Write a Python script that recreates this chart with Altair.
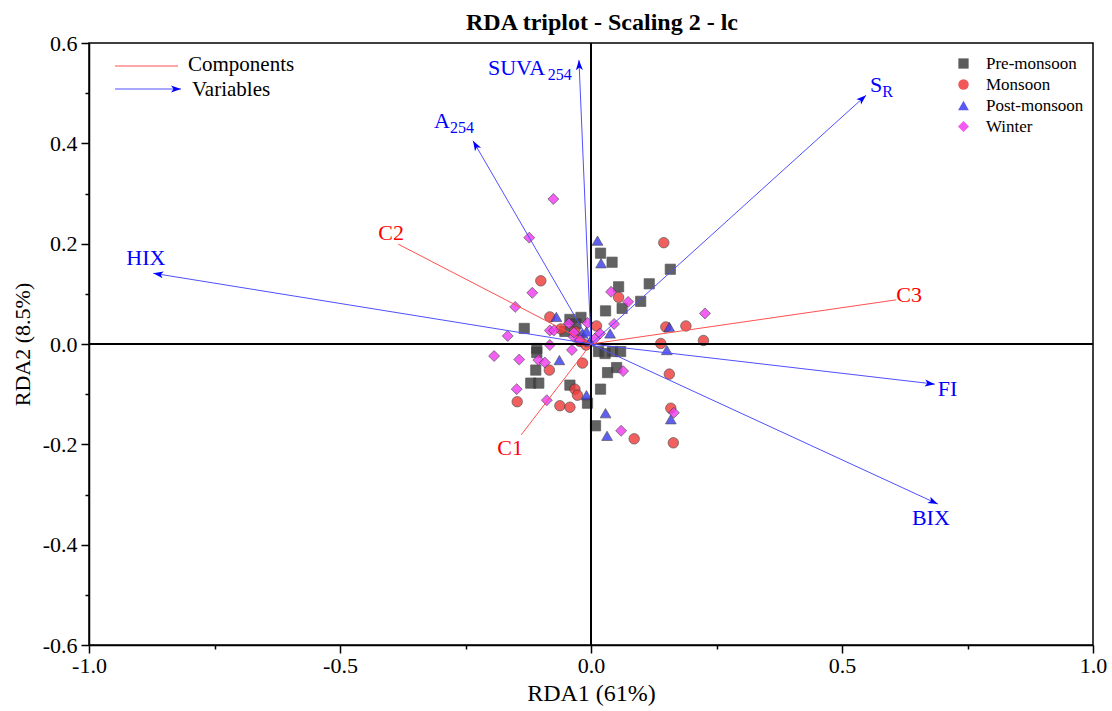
import math
import altair as alt
import pandas as pd

# ---- site scores (RDA1, RDA2) by season ----
pre_x = [0.019, 0.042, 0.158, 0.055, 0.116, 0.062, 0.099, 0.029, -0.042, -0.020,
         -0.133, -0.052, -0.108, -0.108, -0.110, 0.015, 0.043, 0.059, 0.051, 0.033,
         -0.120, -0.104, -0.042, 0.019, -0.007, 0.009, 0.028, -0.030]
pre_y = [0.181, 0.163, 0.149, 0.114, 0.120, 0.071, 0.085, 0.066, 0.049, 0.053,
         0.031, 0.025, -0.009, -0.017, -0.052, -0.015, -0.015, -0.015, -0.047, -0.057,
         -0.078, -0.078, -0.082, -0.090, -0.118, -0.163, -0.019, 0.040]

mon_x = [0.145, -0.100, 0.055, -0.082, 0.011, 0.149, 0.189, 0.139, 0.224, -0.083,
         -0.017, 0.156, -0.032, -0.027, -0.147, -0.062, -0.042, 0.159, 0.086, 0.164,
         -0.032, -0.022, -0.010, -0.060]
mon_y = [0.202, 0.126, 0.093, 0.054, 0.036, 0.034, 0.036, 0.001, 0.007, -0.052,
         -0.038, -0.060, -0.090, -0.102, -0.115, -0.123, -0.126, -0.128, -0.189, -0.197,
         0.025, 0.005, -0.002, 0.030]

post_x = [0.013, 0.020, -0.069, 0.156, 0.151, -0.063, -0.009, 0.029, 0.159, 0.032,
          -0.002, 0.038, -0.017, -0.009]
post_y = [0.206, 0.161, 0.054, 0.034, -0.012, -0.032, -0.102, -0.138, -0.150, -0.183,
          0.005, 0.021, 0.021, 0.025]

win_x = [-0.075, -0.123, -0.117, -0.151, 0.040, 0.074, 0.227, -0.044, -0.007, 0.046,
         -0.166, -0.082, -0.074, -0.035, 0.008, -0.082, -0.038, -0.193, -0.143, -0.105,
         -0.092, 0.064, -0.148, -0.088, 0.165, 0.060, -0.034, -0.022, 0.018]
win_y = [0.289, 0.212, 0.102, 0.074, 0.104, 0.084, 0.061, 0.041, 0.042, 0.040,
         0.016, 0.027, 0.027, 0.015, 0.011, -0.002, -0.012, -0.024, -0.031, -0.032,
         -0.037, -0.054, -0.090, -0.112, -0.137, -0.173, 0.023, 0.008, 0.021]

seasons = ["Pre-monsoon", "Monsoon", "Post-monsoon", "Winter"]

# ---- explanatory variables (blue arrows) ----
var_names = ["HIX", "A254", "SUVA254", "SR", "FI", "BIX"]
var_main = ["HIX", "A", "SUVA", "S", "FI", "BIX"]
var_sub = ["", "254", "254", "R", "", ""]
var_x = [-0.872, -0.235, -0.024, 0.548, 0.685, 0.691]
var_y = [0.141, 0.405, 0.566, 0.496, -0.080, -0.319]

# ---- PARAFAC components (red lines) ----
comp_names = ["C1", "C2", "C3"]
comp_x = [-0.139, -0.384, 0.608]
comp_y = [-0.181, 0.199, 0.088]

# ---- layout / style ----
W, H = 1004, 602
KX = W / 2.0      # px per unit, RDA1
KY = H / 1.2      # px per unit, RDA2
FONT = "Liberation Serif"
LABEL_SIZE = 22
SUB_SIZE = 16

season_colors = ["#404040", "#f03c3c", "#3c3cf0", "#f03cf0"]
season_shapes = ["square", "circle", "triangle-up", "diamond"]
season_sizes = [105, 120, 165, 190]

# label anchor offsets in px (left edge, vertical centre) from the arrow tip
var_label_px = {"HIX": (-27, -15), "A254": (-39, -20), "SUVA254": (-91, 8),
                "SR": (4, -10), "FI": (3, 5), "BIX": (-26, 14)}
comp_label_px = {"C1": (-24, 13), "C2": (-20, -11), "C3": (0, -5)}
# Times-like advance widths (em) of the main text preceding a subscript
main_width_em = {"A": 0.722, "SUVA": 2.722, "S": 0.556}

ARROW = "M0,0L-0.7,2L0,1.5L0.7,2Z"

# ---- frames ----
rows = []
for name, xs, ys in zip(seasons, [pre_x, mon_x, post_x, win_x], [pre_y, mon_y, post_y, win_y]):
    for a, b in zip(xs, ys):
        rows.append({"season": name, "RDA1": a, "RDA2": b})
sites = pd.DataFrame(rows)

vec = pd.DataFrame({"name": var_names, "main": var_main, "sub": var_sub,
                    "x": var_x, "y": var_y})
vec["x0"] = 0.0
vec["y0"] = 0.0
vec["ang"] = [math.degrees(math.atan2(a * KX, b * KY)) % 360 for a, b in zip(vec.x, vec.y)]
vec["lx"] = [a + var_label_px[n][0] / KX for a, n in zip(vec.x, vec.name)]
vec["ly"] = [b - var_label_px[n][1] / KY for b, n in zip(vec.y, vec.name)]
vec["sx"] = [lx + main_width_em.get(m, 0) * LABEL_SIZE / KX for lx, m in zip(vec.lx, vec.main)]
vec["sy"] = [ly - 7 / KY for ly in vec.ly]
subs = vec[vec["sub"] != ""]

comp = pd.DataFrame({"name": comp_names, "x": comp_x, "y": comp_y})
comp["x0"] = 0.0
comp["y0"] = 0.0
comp["lx"] = [a + comp_label_px[n][0] / KX for a, n in zip(comp.x, comp.name)]
comp["ly"] = [b - comp_label_px[n][1] / KY for b, n in zip(comp.y, comp.name)]

xscale = alt.Scale(domain=[-1, 1], nice=False, zero=False)
yscale = alt.Scale(domain=[-0.6, 0.6], nice=False, zero=False)

x_major = "abs(round(datum.value*4)) % 2 == 0"
y_major = "abs(round(datum.value*10)) % 2 == 0"
x_axis = alt.Axis(
    values=[-1, -0.75, -0.5, -0.25, 0, 0.25, 0.5, 0.75, 1],
    labelExpr=f"{x_major} ? replace(format(datum.value, '.1f'), '\u2212', '-') : ''",
    tickSize={"condition": {"test": x_major, "value": 8}, "value": 4},
    labelPadding=2, titlePadding=5, labelFlush=False, titleFontSize=24,
)
y_axis = alt.Axis(
    values=[-0.6, -0.5, -0.4, -0.3, -0.2, -0.1, 0, 0.1, 0.2, 0.3, 0.4, 0.5, 0.6],
    labelExpr=f"{y_major} ? replace(format(datum.value, '.1f'), '\u2212', '-') : ''",
    tickSize={"condition": {"test": y_major, "value": 8}, "value": 4},
    labelPadding=4, titlePadding=8, labelFlush=False, titleFontSize=22,
)


def X(field):
    # every layer shares the same x scale and axis definition
    return alt.X(field, type="quantitative", scale=xscale, axis=x_axis, title="RDA1 (61%)")


def Y(field):
    return alt.Y(field, type="quantitative", scale=yscale, axis=y_axis, title="RDA2 (8.5%)")


legend = alt.Legend(
    title=None, orient="none", legendX=866, legendY=12, labelFont=FONT, labelFontSize=17,
    labelColor="black", symbolSize=120, symbolStrokeColor="#333333", symbolStrokeWidth=0.7,
    symbolOpacity=0.85, rowPadding=3, labelOffset=14, padding=0,
)

# zero lines
zero = pd.DataFrame({"v": [0.0]})
vzero = alt.Chart(zero).mark_rule(color="black", strokeWidth=2).encode(x=X("v"))
hzero = alt.Chart(zero).mark_rule(color="black", strokeWidth=2).encode(y=Y("v"))

points = alt.Chart(sites).mark_point(
    filled=True, opacity=0.82, stroke="#333333", strokeWidth=0.7
).encode(
    x=X("RDA1"),
    y=Y("RDA2"),
    color=alt.Color("season:N", scale=alt.Scale(domain=seasons, range=season_colors), legend=legend),
    shape=alt.Shape("season:N", scale=alt.Scale(domain=seasons, range=season_shapes), legend=legend),
    size=alt.Size("season:N", scale=alt.Scale(domain=seasons, range=season_sizes), legend=None),
)

comp_lines = alt.Chart(comp).mark_rule(color="#ff5050", strokeWidth=1).encode(
    x=X("x0"), y=Y("y0"), x2="x:Q", y2="y:Q")
comp_text = alt.Chart(comp).mark_text(
    font=FONT, fontSize=LABEL_SIZE, color="#ff0000", align="left", baseline="middle"
).encode(x=X("lx"), y=Y("ly"), text="name:N")

var_lines = alt.Chart(vec).mark_rule(color="#5050ff", strokeWidth=1).encode(
    x=X("x0"), y=Y("y0"), x2="x:Q", y2="y:Q")
var_heads = alt.Chart(vec).mark_point(
    shape=ARROW, filled=True, color="#0000ff", size=100, opacity=1
).encode(x=X("x"), y=Y("y"), angle=alt.Angle("ang:Q", scale=None))
var_text = alt.Chart(vec).mark_text(
    font=FONT, fontSize=LABEL_SIZE, color="#0000ff", align="left", baseline="middle"
).encode(x=X("lx"), y=Y("ly"), text="main:N")
var_subtext = alt.Chart(subs).mark_text(
    font=FONT, fontSize=SUB_SIZE, color="#0000ff", align="left", baseline="middle"
).encode(x=X("sx"), y=Y("sy"), text="sub:N")

# key for the line types (top-left)
one = pd.DataFrame({"k": [0]})
key_comp = alt.Chart(one).mark_rule(color="#ff5050", strokeWidth=1).encode(
    x=alt.value(26), x2=alt.value(89), y=alt.value(23))
key_var = alt.Chart(one).mark_rule(color="#5050ff", strokeWidth=1).encode(
    x=alt.value(26), x2=alt.value(92), y=alt.value(46))
key_head = alt.Chart(one).mark_point(
    shape=ARROW, filled=True, color="#0000ff", size=100, opacity=1, angle=90
).encode(x=alt.value(92), y=alt.value(46))
key_text1 = alt.Chart(one).mark_text(
    text="Components", font=FONT, fontSize=21, color="black", align="left", baseline="middle"
).encode(x=alt.value(99), y=alt.value(22))
key_text2 = alt.Chart(one).mark_text(
    text="Variables", font=FONT, fontSize=21, color="black", align="left", baseline="middle"
).encode(x=alt.value(103), y=alt.value(47))

chart = alt.layer(
    points, vzero, hzero, comp_lines, var_lines, var_heads, comp_text, var_text, var_subtext,
    key_comp, key_var, key_head, key_text1, key_text2,
).properties(
    width=W, height=H,
    title=alt.Title("RDA triplot - Scaling 2 - lc", anchor="middle", offset=-3, dx=11),
    padding={"left": 89, "top": 43, "right": 19, "bottom": 66},
    autosize=alt.AutoSizeParams(type="none"),
).configure_view(
    stroke="black", strokeWidth=1.5
).configure_axis(
    grid=False, domainColor="black", domainWidth=1.5, tickColor="black", tickWidth=1.5,
    labelFont=FONT, labelFontSize=22, labelColor="black", titleFont=FONT,
    titleFontWeight="normal", titleColor="black",
).configure_title(
    font=FONT, fontSize=24, fontWeight="bold", color="black",
)

chart.save("out.html", embed_options={"renderer": "svg", "actions": False})
